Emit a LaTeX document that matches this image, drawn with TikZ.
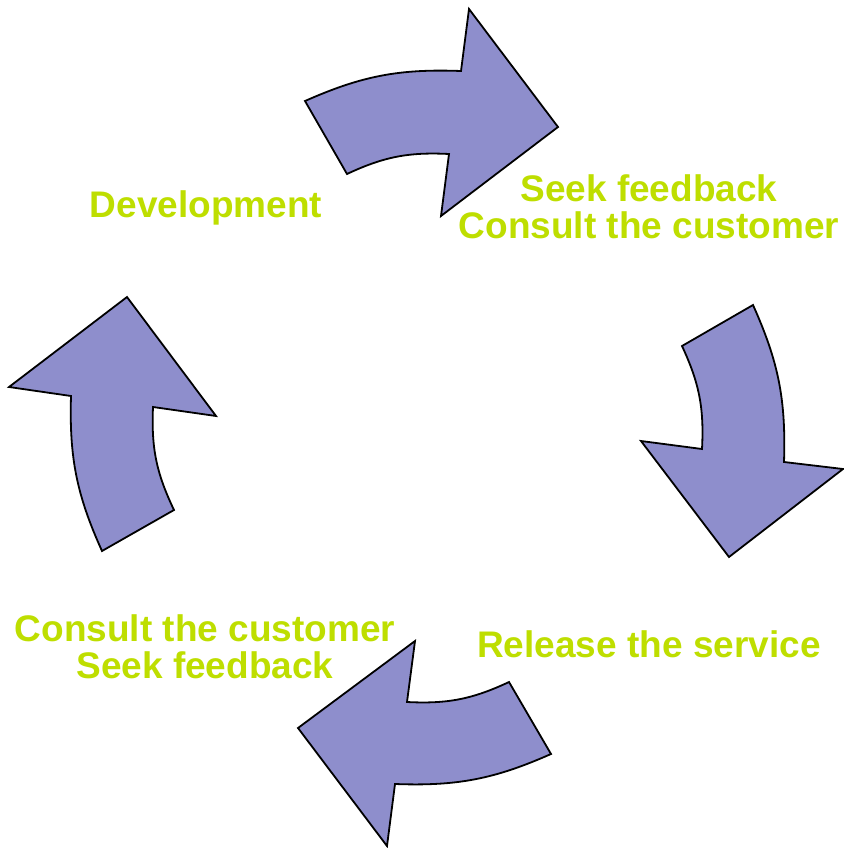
\documentclass[tikz,border=0pt]{standalone}
\usepackage{fontspec}
\setmainfont{Liberation Sans}
\definecolor{arrowfill}{RGB}{142,142,204}
\definecolor{labelgreen}{RGB}{190,222,0}
\begin{document}
\begin{tikzpicture}[x=1pt,y=-1pt,
  cyclearrow/.style={draw=black,fill=arrowfill,line width=1.8pt,line join=miter},
  outerbend/.style={bend left=13},
  innerbend/.style={bend right=14},
  steplabel/.style={text=labelgreen,font=\fontsize{37}{37}\selectfont\bfseries,
    align=center,inner sep=0pt,anchor=base}]
\useasboundingbox (0,0) rectangle (843,848);

% top arrow, pointing right
\draw[cyclearrow] (305,101) to[outerbend] (461,71) -- (469,9) -- (558,127)
  -- (441,216) -- (449,154) to[innerbend] (347,174) -- cycle;
% right arrow, pointing down
\draw[cyclearrow] (753,305) to[outerbend] (784,462) -- (843,469) -- (729,557)
  -- (641,441) -- (702,449) to[innerbend] (682,346) -- cycle;
% bottom arrow, pointing left
\draw[cyclearrow] (551,754) to[outerbend] (395,784) -- (387,846) -- (298,728)
  -- (415,641) -- (407,702) to[innerbend] (509,682) -- cycle;
% left arrow, pointing up
\draw[cyclearrow] (102,551) to[outerbend] (71,396) -- (9,387) -- (127,297)
  -- (216,416) -- (153,407) to[innerbend] (174,510) -- cycle;

% labels (base anchor sits on the last line)
\node[steplabel] (dev) at (206,217) {Development};
\node[steplabel] (seek) at (649,238) {Seek feedback\\Consult the customer};
\node[steplabel] (release) at (649,657) {Release the service};
\node[steplabel] (consult) at (205,678) {Consult the customer\\Seek feedback};
\end{tikzpicture}
\end{document}
